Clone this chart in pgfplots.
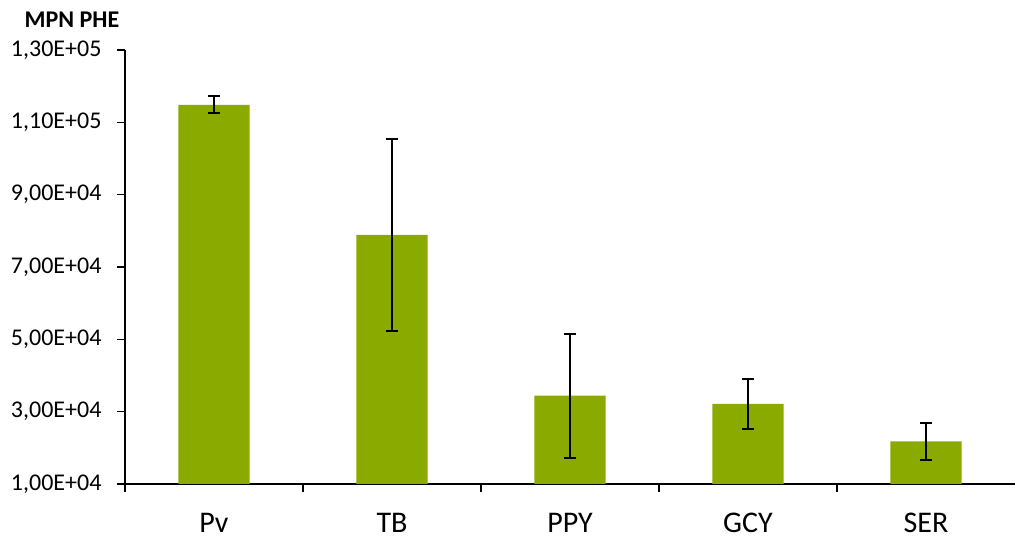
\documentclass[border=0pt]{standalone}
\usepackage{pgfplots}
\pgfplotsset{compat=1.18}
\usepackage{fontspec}
\setmainfont{Carlito}
\definecolor{barGreen}{RGB}{138,170,0}

\begin{document}
\begin{tikzpicture}
% picture frame: 1015 x 537 (1pt = 1px of the reference)
\useasboundingbox (-125pt,-53pt) rectangle (890pt,484pt);
\begin{axis}[
    at={(0pt,0pt)}, anchor=south west,
    scale only axis,
    width=890pt, height=434pt,
    xmin=-0.5, xmax=4.5,
    ymin=10000, ymax=130000,
    axis x line*=bottom, axis y line*=left,
    axis line style={line width=1.3pt},
    xtick={0,1,2,3,4},
    xticklabels={Pv,TB,PPY,GCY,SER},
    major x tick style={draw=none},
    minor xtick={-0.5,0.5,1.5,2.5,3.5},
    minor x tick style={line width=1.3pt, black},
    minor tick length=8pt,
    ytick={10000,30000,50000,70000,90000,110000,130000},
    yticklabels={{1,00E+04},{3,00E+04},{5,00E+04},{7,00E+04},{9,00E+04},{1,10E+05},{1,30E+05}},
    major y tick style={line width=1.3pt, black},
    major tick length=8pt,
    tick align=outside,
    xticklabel style={font=\fontsize{30}{34}\selectfont, inner sep=0pt,
        text depth=0pt, yshift=-21pt},
    yticklabel style={font=\fontsize{24}{28}\selectfont, xshift=-12pt},
    scaled y ticks=false,
    clip=false,
]
\addplot[ybar, bar width=0.4, fill=barGreen, draw=none,
    error bars/.cd, y dir=both, y explicit,
    error bar style={line width=2pt, black},
    error mark options={rotate=90, mark size=6pt, line width=2pt, black}]
    coordinates {
    (0,114800) +- (0,2350)
    (1,78850)  +- (0,26650)
    (2,34400)  +- (0,17140)
    (3,32120)  +- (0,6780)
    (4,21810)  +- (0,5060)
    };
\end{axis}
\node[font=\fontsize{24}{28}\selectfont\bfseries] at (-53pt,464pt) {MPN PHE};
\end{tikzpicture}
\end{document}
